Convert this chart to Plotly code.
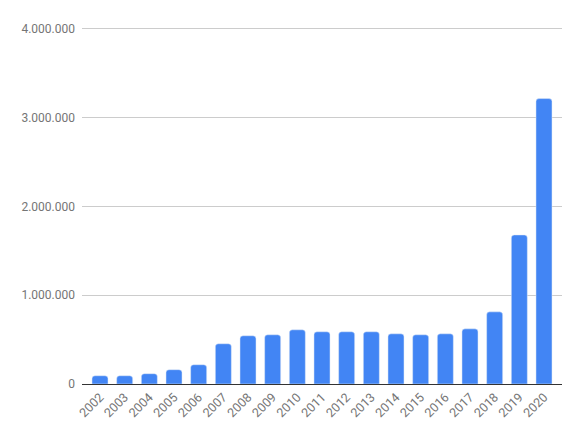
import plotly.graph_objects as go

years = [str(y) for y in range(2002, 2021)]
values = [93000, 93000, 116000, 161000, 217000, 453000, 543000, 554000, 610000,
          588000, 588000, 588000, 565000, 554000, 565000, 621000, 812000,
          1678000, 3213000]

fig = go.Figure(
    go.Bar(
        x=years,
        y=values,
        marker=dict(color="#4285F4", cornerradius=3),
    )
)

# page body has an 8px margin, so the figure is sized/offset to compensate
fig.update_layout(
    width=566,
    height=421,
    margin=dict(l=74, r=12, t=18, b=45),
    plot_bgcolor="white",
    paper_bgcolor="white",
    bargap=0.35,
    separators=",.",
    showlegend=False,
    font=dict(family="Roboto", size=12, color="#757575"),
)

fig.update_xaxes(
    type="category",
    range=[-0.73, 18.73],
    tickangle=-45,
    showgrid=False,
    showline=True,
    linecolor="#333333",
    linewidth=1,
    ticks="",
    automargin=False,
    tickfont=dict(size=12.5),
)

# a bit of headroom so the 4.000.000 gridline is drawn
fig.update_yaxes(
    range=[0, 4030000],
    dtick=1000000,
    tickformat=",d",
    gridcolor="#cccccc",
    zeroline=False,
    ticks="",
    ticklabelstandoff=6,
    automargin=False,
)

fig.write_html("out.html")
